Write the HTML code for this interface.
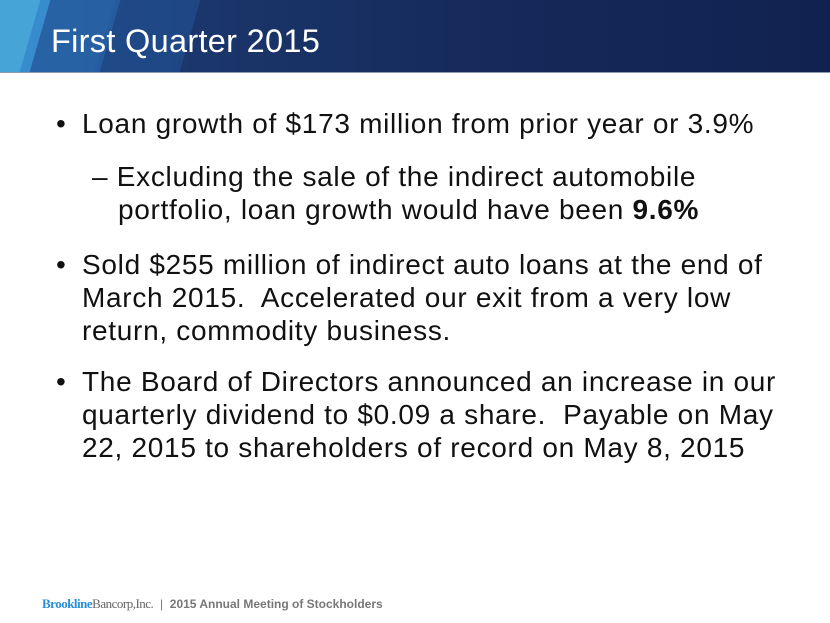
<!DOCTYPE html>
<html><head><style>
body{margin:0;width:830px;height:623px;overflow:hidden;background:#fff;font-family:"Liberation Sans",sans-serif;position:relative}
.hdr{position:absolute;left:0;top:0;width:830px;height:72px;background:linear-gradient(90deg,#1d3f7a 0%,#1a3468 30%,#15295a 60%,#112250 100%);overflow:hidden;border-bottom:1px solid #8a9ab8}
.hdr .s1{position:absolute;left:-40px;top:0;width:80px;height:72px;background:#4fb6e6;transform:skewX(-16deg);opacity:.85}
.hdr .s2{position:absolute;left:30px;top:0;width:80px;height:72px;background:#2f7cc4;transform:skewX(-16deg);opacity:.6}
.hdr .s3{position:absolute;left:105px;top:0;width:85px;height:72px;background:#24579d;transform:skewX(-16deg);opacity:.5}
.title{position:absolute;left:51px;top:23px;color:#fff;font-size:32.5px;line-height:36px;letter-spacing:0.3px}
.t{position:absolute;color:#111;font-size:28px;letter-spacing:0.7px;white-space:nowrap;line-height:33px}
.foot{position:absolute;top:596px;left:42px;font-size:12px;color:#777;white-space:nowrap}
.foot .br{font-family:"Liberation Serif",serif;color:#2a8fd6;font-weight:bold;font-size:13px;letter-spacing:-0.5px}
.foot .bc{font-family:"Liberation Serif",serif;color:#666;font-size:13px;letter-spacing:-0.5px}
</style></head><body>
<div class="hdr"><div class="s1"></div><div class="s2"></div><div class="s3"></div>
<div class="title">First Quarter 2015</div></div>
<div class="t" style="left:56px;top:107px">•</div>
<div class="t" style="left:82px;top:107px">Loan growth of $173 million from prior year or 3.9%</div>
<div class="t" style="left:92px;top:160px">– Excluding the sale of the indirect automobile</div>
<div class="t" style="left:118px;top:193px">portfolio, loan growth would have been <b>9.6%</b></div>
<div class="t" style="left:56px;top:248px">•</div>
<div class="t" style="left:82px;top:248px">Sold $255 million of indirect auto loans at the end of</div>
<div class="t" style="left:82px;top:281px">March 2015.&nbsp; Accelerated our exit from a very low</div>
<div class="t" style="left:82px;top:314px">return, commodity business.</div>
<div class="t" style="left:56px;top:365px">•</div>
<div class="t" style="left:82px;top:365px">The Board of Directors announced an increase in our</div>
<div class="t" style="left:82px;top:398px">quarterly dividend to $0.09 a share.&nbsp; Payable on May</div>
<div class="t" style="left:82px;top:431px">22, 2015 to shareholders of record on May 8, 2015</div>
<div class="foot"><span class="br">Brookline</span><span class="bc">Bancorp,Inc.</span> &nbsp;| &nbsp;<b>2015 Annual Meeting of Stockholders</b></div>
</body></html>
